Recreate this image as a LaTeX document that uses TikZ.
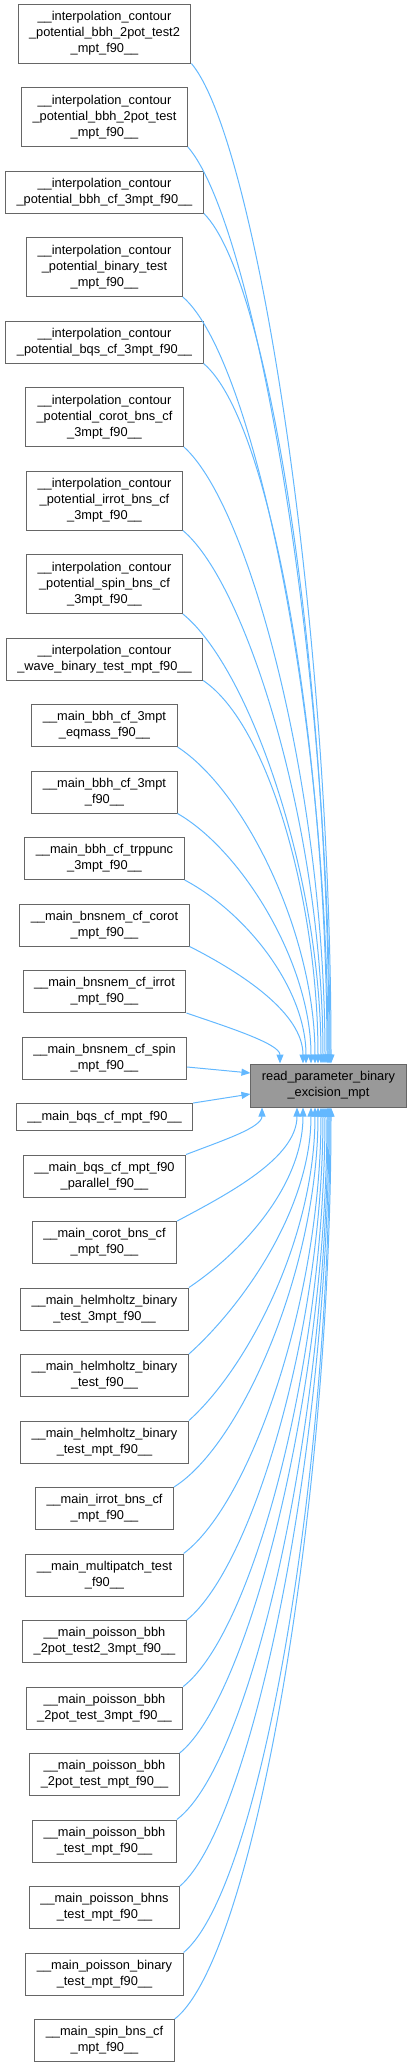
\documentclass[tikz,border=0pt]{standalone}
\usepackage{fontspec}
\setmainfont{Liberation Sans}
\usetikzlibrary{arrows.meta}
\definecolor{edgeblue}{HTML}{63B8FF}
\definecolor{boxgray}{HTML}{666666}
\definecolor{rootgray}{HTML}{999999}

\begin{document}
\begin{tikzpicture}[x=1pt, y=1pt,
    box/.style={draw=boxgray, fill=white, line width=1pt, align=center, inner xsep=11pt, inner ysep=2pt, minimum height=27pt, font=\fontsize{12.8}{16}\selectfont},
    two/.style={minimum height=42pt},
    three/.style={minimum height=59pt},
    root/.style={box, two, minimum height=43pt, fill=rootgray},
    call/.style={draw=edgeblue, line width=1pt, -{Triangle[length=9pt, width=7pt]}}
]
    \useasboundingbox (0,0) rectangle (410,-2067);

    % called function
    \node[root] (tgt) at (328.5,-1085.5) {read\_parameter\_binary\\\_excision\_mpt};

    % callers: interpolation contour
    \node[box, three] (n1) at (104.5,-33.5) {\_\_interpolation\_contour\\\_potential\_bbh\_2pot\_test2\\\_mpt\_f90\_\_};
    \node[box, three] (n2) at (104.5,-117) {\_\_interpolation\_contour\\\_potential\_bbh\_2pot\_test\\\_mpt\_f90\_\_};
    \node[box, two] (n3) at (104.5,-192) {\_\_interpolation\_contour\\\_potential\_bbh\_cf\_3mpt\_f90\_\_};
    \node[box, three] (n4) at (104.5,-267) {\_\_interpolation\_contour\\\_potential\_binary\_test\\\_mpt\_f90\_\_};
    \node[box, two] (n5) at (104.5,-342) {\_\_interpolation\_contour\\\_potential\_bqs\_cf\_3mpt\_f90\_\_};
    \node[box, three] (n6) at (104.5,-417) {\_\_interpolation\_contour\\\_potential\_corot\_bns\_cf\\\_3mpt\_f90\_\_};
    \node[box, three] (n7) at (104.5,-500.5) {\_\_interpolation\_contour\\\_potential\_irrot\_bns\_cf\\\_3mpt\_f90\_\_};
    \node[box, three] (n8) at (104.5,-584) {\_\_interpolation\_contour\\\_potential\_spin\_bns\_cf\\\_3mpt\_f90\_\_};
    \node[box, two] (n9) at (104.5,-659) {\_\_interpolation\_contour\\\_wave\_binary\_test\_mpt\_f90\_\_};

    % callers: main programs
    \node[box, two] (n10) at (104.5,-725.5) {\_\_main\_bbh\_cf\_3mpt\\\_eqmass\_f90\_\_};
    \node[box, two] (n11) at (104.5,-792) {\_\_main\_bbh\_cf\_3mpt\\\_f90\_\_};
    \node[box, two] (n12) at (104.5,-858.5) {\_\_main\_bbh\_cf\_trppunc\\\_3mpt\_f90\_\_};
    \node[box, two] (n13) at (104.5,-925) {\_\_main\_bnsnem\_cf\_corot\\\_mpt\_f90\_\_};
    \node[box, two] (n14) at (104.5,-991.5) {\_\_main\_bnsnem\_cf\_irrot\\\_mpt\_f90\_\_};
    \node[box, two] (n15) at (104.5,-1058) {\_\_main\_bnsnem\_cf\_spin\\\_mpt\_f90\_\_};
    \node[box] (n16) at (104.5,-1117) {\_\_main\_bqs\_cf\_mpt\_f90\_\_};
    \node[box, two] (n17) at (104.5,-1176) {\_\_main\_bqs\_cf\_mpt\_f90\\\_parallel\_f90\_\_};
    \node[box, two] (n18) at (104.5,-1242.5) {\_\_main\_corot\_bns\_cf\\\_mpt\_f90\_\_};
    \node[box, two] (n19) at (104.5,-1309) {\_\_main\_helmholtz\_binary\\\_test\_3mpt\_f90\_\_};
    \node[box, two] (n20) at (104.5,-1375.5) {\_\_main\_helmholtz\_binary\\\_test\_f90\_\_};
    \node[box, two] (n21) at (104.5,-1442) {\_\_main\_helmholtz\_binary\\\_test\_mpt\_f90\_\_};
    \node[box, two] (n22) at (104.5,-1508.5) {\_\_main\_irrot\_bns\_cf\\\_mpt\_f90\_\_};
    \node[box, two] (n23) at (104.5,-1575) {\_\_main\_multipatch\_test\\\_f90\_\_};
    \node[box, two] (n24) at (104.5,-1641.5) {\_\_main\_poisson\_bbh\\\_2pot\_test2\_3mpt\_f90\_\_};
    \node[box, two] (n25) at (104.5,-1708) {\_\_main\_poisson\_bbh\\\_2pot\_test\_3mpt\_f90\_\_};
    \node[box, two] (n26) at (104.5,-1774.5) {\_\_main\_poisson\_bbh\\\_2pot\_test\_mpt\_f90\_\_};
    \node[box, two] (n27) at (104.5,-1841) {\_\_main\_poisson\_bbh\\\_test\_mpt\_f90\_\_};
    \node[box, two] (n28) at (104.5,-1907.5) {\_\_main\_poisson\_bhns\\\_test\_mpt\_f90\_\_};
    \node[box, two] (n29) at (104.5,-1974) {\_\_main\_poisson\_binary\\\_test\_mpt\_f90\_\_};
    \node[box, two] (n30) at (104.5,-2040.5) {\_\_main\_spin\_bns\_cf\\\_mpt\_f90\_\_};

    % calls from above
    \draw[call] (n1.south east) .. controls +(-50:100) and +(0,450) .. ([xshift=2.5pt]tgt.north);
    \draw[call] (n2.south east) .. controls +(-49:100) and +(0,410) .. ([xshift=1.5pt]tgt.north);
    \draw[call] (n3.south east) .. controls +(-45:95) and +(0,380) .. ([xshift=0.5pt]tgt.north);
    \draw[call] (n4.south east) .. controls +(-41:95) and +(0,340) .. ([xshift=-0.5pt]tgt.north);
    \draw[call] (n5.south east) .. controls +(-40:90) and +(0,310) .. ([xshift=-1.5pt]tgt.north);
    \draw[call] (n6.south east) .. controls +(-42:90) and +(0,270) .. ([xshift=-3.5pt]tgt.north);
    \draw[call] (n7.south east) .. controls +(-40:85) and +(0,230) .. ([xshift=-5.5pt]tgt.north);
    \draw[call] (n8.south east) .. controls +(-39:85) and +(0,190) .. ([xshift=-7.5pt]tgt.north);
    \draw[call] (n9.south east) .. controls +(-34:80) and +(0,160) .. ([xshift=-10.5pt]tgt.north);
    \draw[call] (n10.south east) .. controls +(-33:80) and +(0,130) .. ([xshift=-13.5pt]tgt.north);
    \draw[call] (n11.south east) .. controls +(-30:75) and +(0,100) .. ([xshift=-17.5pt]tgt.north);
    \draw[call] (n12.south east) .. controls +(-28:70) and +(0,75) .. ([xshift=-22.5pt]tgt.north);
    \draw[call] (n13.south east) .. controls +(-27:60) and +(0,50) .. ([xshift=-25.5pt]tgt.north);
    \draw[call] (n14.south east) .. controls +(-19:40) and +(0,20) .. ([xshift=-48.5pt]tgt.north);

    % calls from the side
    \draw[call] ([yshift=-9pt]n15.east) -- ([yshift=12.5pt]tgt.west);
    \draw[call] (n16.north east) -- ([yshift=-8.5pt]tgt.west);

    % calls from below
    \draw[call] (n17.north east) .. controls +(21:40) and +(0,-20) .. ([xshift=-66.5pt]tgt.south);
    \draw[call] (n18.north east) .. controls +(28:60) and +(0,-50) .. ([xshift=-31.5pt]tgt.south);
    \draw[call] (n19.north east) .. controls +(34:70) and +(0,-75) .. ([xshift=-25.5pt]tgt.south);
    \draw[call] (n20.north east) .. controls +(42:75) and +(0,-100) .. ([xshift=-17.5pt]tgt.south);
    \draw[call] (n21.north east) .. controls +(42:80) and +(0,-130) .. ([xshift=-13.5pt]tgt.south);
    \draw[call] (n22.north east) .. controls +(32:80) and +(0,-160) .. ([xshift=-10.5pt]tgt.south);
    \draw[call] (n23.north east) .. controls +(37:85) and +(0,-190) .. ([xshift=-7.5pt]tgt.south);
    \draw[call] (n24.north east) .. controls +(39:85) and +(0,-220) .. ([xshift=-5.5pt]tgt.south);
    \draw[call] (n25.north east) .. controls +(38:90) and +(0,-250) .. ([xshift=-3.5pt]tgt.south);
    \draw[call] (n26.north east) .. controls +(39:90) and +(0,-280) .. ([xshift=-1.5pt]tgt.south);
    \draw[call] (n27.north east) .. controls +(37:95) and +(0,-310) .. ([xshift=-0.5pt]tgt.south);
    \draw[call] (n28.north east) .. controls +(41:95) and +(0,-340) .. ([xshift=0.5pt]tgt.south);
    \draw[call] (n29.north east) .. controls +(40:100) and +(0,-370) .. ([xshift=1.5pt]tgt.south);
    \draw[call] (n30.north east) .. controls +(38:100) and +(0,-400) .. ([xshift=2.5pt]tgt.south);
\end{tikzpicture}
\end{document}
